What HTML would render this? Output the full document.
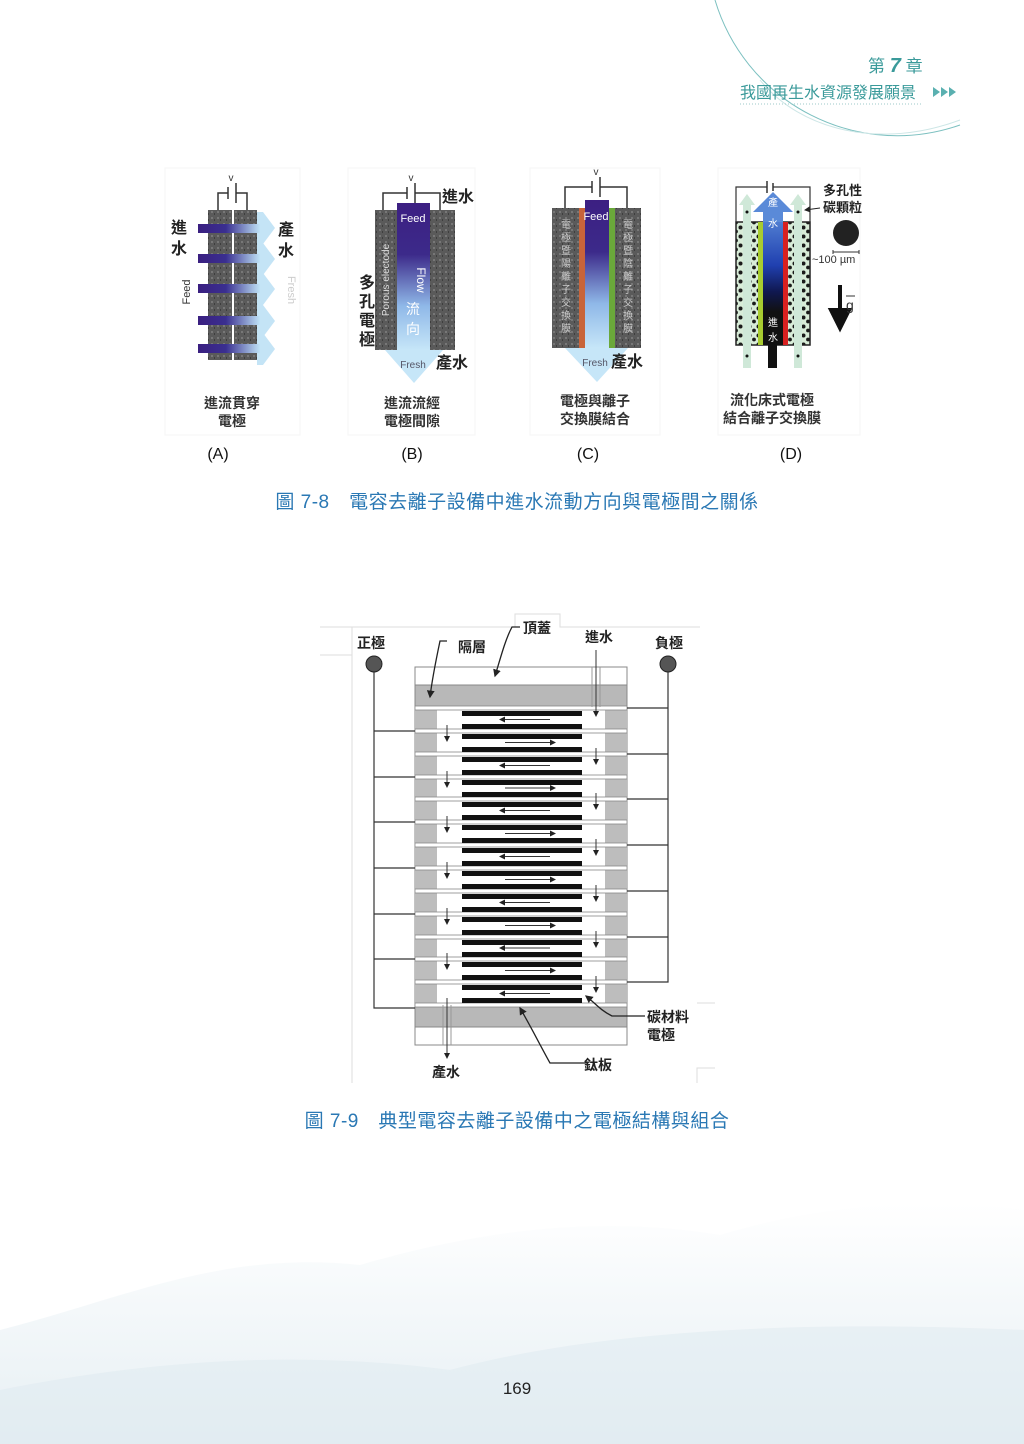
<!DOCTYPE html>
<html><head><meta charset="utf-8"><style>
html,body{margin:0;padding:0;background:#fff}
svg{display:block}
text{font-family:"Liberation Sans","Noto Sans CJK TC",sans-serif}
</style></head><body>
<svg width="1024" height="1444" viewBox="0 0 1024 1444" xmlns="http://www.w3.org/2000/svg">
<defs>
<pattern id="spk" width="6" height="6" patternUnits="userSpaceOnUse">
<rect width="6" height="6" fill="#5a5a5a"/><rect x="1" y="1" width="2" height="2" fill="#777"/><rect x="4" y="3" width="1" height="2" fill="#3e3e3e"/>
</pattern>
<pattern id="dots" width="9" height="9" patternUnits="userSpaceOnUse">
<rect width="9" height="9" fill="#d8ecd8"/><circle cx="2.5" cy="2.5" r="2" fill="#1a1a1a"/><circle cx="7" cy="6.5" r="1.9" fill="#1a1a1a"/>
</pattern>
<linearGradient id="hg" x1="0" x2="1" y1="0" y2="0"><stop offset="0" stop-color="#3a1f80"/><stop offset="0.45" stop-color="#3a2f90"/><stop offset="1" stop-color="#bfe3f7"/></linearGradient>
<linearGradient id="vg" x1="0" x2="0" y1="0" y2="1"><stop offset="0" stop-color="#3c1f82"/><stop offset="0.35" stop-color="#3c2a8a"/><stop offset="0.7" stop-color="#8fb8e8"/><stop offset="1" stop-color="#c6e6f8"/></linearGradient>
<linearGradient id="dg" x1="0" x2="0" y1="0" y2="1"><stop offset="0" stop-color="#5a8ad8"/><stop offset="0.4" stop-color="#2040b0"/><stop offset="0.6" stop-color="#101850"/><stop offset="0.75" stop-color="#111"/><stop offset="1" stop-color="#111"/></linearGradient>
<linearGradient id="bgB" x1="0" x2="0" y1="0" y2="1"><stop offset="0" stop-color="#fff"/><stop offset="1" stop-color="#e3edf2"/></linearGradient>
<marker id="ah" markerWidth="6" markerHeight="6" refX="5" refY="3" orient="auto"><path d="M0,0 L6,3 L0,6 z" fill="#222"/></marker>
</defs>

<path d="M0,1444 L0,1330 C120,1300 220,1250 360,1265 C480,1230 600,1215 720,1235 C820,1205 930,1195 1024,1210 L1024,1444 z" fill="url(#bgB)" opacity="0.9"/>
<path d="M0,1444 L0,1390 C150,1360 300,1350 450,1370 C600,1330 800,1320 1024,1330 L1024,1444z" fill="#dde9f0" opacity="0.5"/>

<path d="M715,0 A190,190 0 0 0 960,125" fill="none" stroke="#7cc0c0" stroke-width="1"/>
<path d="M760,80 C800,130 880,150 960,120" fill="none" stroke="#cde6e6" stroke-width="1"/>
<text x="868" y="72" font-size="17" fill="#3a9a9a">第 <tspan font-style="italic" font-weight="bold" font-size="20">7</tspan> 章</text>
<text x="740" y="98" font-size="16" fill="#3a9a9a">我國再生水資源發展願景</text>
<line x1="740" y1="104" x2="922" y2="104" stroke="#9ccaca" stroke-dasharray="1,2"/>
<path d="M933,87 l7,5 l-7,5z M941,87 l7,5 l-7,5z M949,87 l7,5 l-7,5z" fill="#5ab0b0"/>

<g stroke="#f5f5f5" fill="none"><rect x="165" y="168" width="135" height="267"/><rect x="348" y="168" width="127" height="267"/><rect x="530" y="168" width="130" height="267"/><rect x="718" y="168" width="142" height="267"/></g>

<g>
<rect x="208" y="210" width="24" height="150" fill="url(#spk)"/>
<rect x="234" y="210" width="23" height="150" fill="url(#spk)"/>
<g fill="#c4e4f6">
<path d="M257,212 h6 l12,16 l-12,16 h-6z"/><path d="M257,243 h6 l12,16 l-12,16 h-6z"/><path d="M257,273 h6 l12,16 l-12,16 h-6z"/><path d="M257,305 h6 l12,16 l-12,16 h-6z"/><path d="M257,333 h6 l12,16 l-12,16 h-6z"/>
</g>
<rect x="198" y="224" width="62" height="9" fill="url(#hg)"/>
<rect x="198" y="254" width="62" height="9" fill="url(#hg)"/>
<rect x="198" y="284" width="62" height="9" fill="url(#hg)"/>
<rect x="198" y="316" width="62" height="9" fill="url(#hg)"/>
<rect x="198" y="344" width="62" height="9" fill="url(#hg)"/>
<path d="M218,210 V193 H228 M236,193 H247 V210" fill="none" stroke="#333" stroke-width="1.5"/>
<line x1="228" y1="187" x2="228" y2="199" stroke="#333" stroke-width="1.5"/><line x1="236" y1="183" x2="236" y2="203" stroke="#333" stroke-width="1.5"/>
<text x="231" y="181" font-size="10" fill="#333" text-anchor="middle">v</text>
<text x="171" y="233" font-size="16" font-weight="bold" fill="#222">進</text>
<text x="171" y="254" font-size="16" font-weight="bold" fill="#222">水</text>
<text x="278" y="235" font-size="16" font-weight="bold" fill="#222">產</text>
<text x="278" y="256" font-size="16" font-weight="bold" fill="#222">水</text>
<text transform="translate(190,292) rotate(-90)" font-size="11" fill="#333" text-anchor="middle">Feed</text>
<text transform="translate(288,290) rotate(90)" font-size="11" fill="#ccc" text-anchor="middle">Fresh</text>
<text x="232" y="408" font-size="14" font-weight="bold" fill="#333" text-anchor="middle">進流貫穿</text>
<text x="232" y="426" font-size="14" font-weight="bold" fill="#333" text-anchor="middle">電極</text>
</g>

<g>
<rect x="375" y="210" width="22" height="140" fill="url(#spk)"/>
<rect x="430" y="210" width="25" height="140" fill="url(#spk)"/>
<rect x="397" y="203" width="33" height="147" fill="url(#vg)"/>
<path d="M385,350 H443 L414,383z" fill="#c6e6f8"/>
<path d="M383,210 V193 H407 M415,193 H440 V210" fill="none" stroke="#333" stroke-width="1.5"/>
<line x1="407" y1="187" x2="407" y2="199" stroke="#333" stroke-width="1.5"/><line x1="415" y1="183" x2="415" y2="203" stroke="#333" stroke-width="1.5"/>
<text x="411" y="181" font-size="10" fill="#333" text-anchor="middle">v</text>
<text x="413" y="222" font-size="11" fill="#fff" text-anchor="middle">Feed</text>
<text transform="translate(389,280) rotate(-90)" font-size="10" fill="#ddd" text-anchor="middle">Porous electode</text>
<text transform="translate(417,280) rotate(90)" font-size="12" fill="#fff" text-anchor="middle">Flow</text>
<text x="413" y="314" font-size="14" fill="#fff" text-anchor="middle">流</text>
<text x="413" y="334" font-size="14" fill="#fff" text-anchor="middle">向</text>
<text x="413" y="368" font-size="10" fill="#556" text-anchor="middle">Fresh</text>
<text x="442" y="202" font-size="16" font-weight="bold" fill="#222">進水</text>
<text x="436" y="368" font-size="16" font-weight="bold" fill="#222">產水</text>
<g font-size="16" font-weight="bold" fill="#222"><text x="359" y="288">多</text><text x="359" y="307">孔</text><text x="359" y="326">電</text><text x="359" y="345">極</text></g>
<text x="412" y="408" font-size="14" font-weight="bold" fill="#333" text-anchor="middle">進流流經</text>
<text x="412" y="426" font-size="14" font-weight="bold" fill="#333" text-anchor="middle">電極間隙</text>
</g>

<g>
<rect x="552" y="208" width="27" height="140" fill="url(#spk)"/>
<rect x="615" y="208" width="26" height="140" fill="url(#spk)"/>
<rect x="579" y="208" width="6" height="140" fill="#c8643a"/>
<rect x="609" y="208" width="6" height="140" fill="#6aa83a"/>
<rect x="585" y="200" width="24" height="148" fill="url(#vg)"/>
<path d="M565,348 H628 L597,382z" fill="#c6e6f8"/>
<path d="M565,208 V187 H592 M600,187 H627 V208" fill="none" stroke="#333" stroke-width="1.5"/>
<line x1="592" y1="181" x2="592" y2="193" stroke="#333" stroke-width="1.5"/><line x1="600" y1="177" x2="600" y2="197" stroke="#333" stroke-width="1.5"/>
<text x="596" y="175" font-size="10" fill="#333" text-anchor="middle">v</text>
<text x="596" y="220" font-size="11" fill="#fff" text-anchor="middle">Feed</text>
<g font-size="10" fill="#ccc" text-anchor="middle">
<text x="566" y="228">電</text><text x="566" y="241">極</text><text x="566" y="254">暨</text><text x="566" y="267">陽</text><text x="566" y="280">離</text><text x="566" y="293">子</text><text x="566" y="306">交</text><text x="566" y="319">換</text><text x="566" y="332">膜</text>
<text x="628" y="228">電</text><text x="628" y="241">極</text><text x="628" y="254">暨</text><text x="628" y="267">陰</text><text x="628" y="280">離</text><text x="628" y="293">子</text><text x="628" y="306">交</text><text x="628" y="319">換</text><text x="628" y="332">膜</text>
</g>
<text x="595" y="366" font-size="10" fill="#556" text-anchor="middle">Fresh</text>
<text x="611" y="367" font-size="16" font-weight="bold" fill="#222">產水</text>
<text x="595" y="406" font-size="14" font-weight="bold" fill="#333" text-anchor="middle">電極與離子</text>
<text x="595" y="424" font-size="14" font-weight="bold" fill="#333" text-anchor="middle">交換膜結合</text>
</g>

<g>
<rect x="736" y="222" width="74" height="123" fill="url(#dots)" stroke="#222" stroke-width="1.5"/>
<rect x="758" y="222" width="5" height="123" fill="#a8cc30"/>
<rect x="783" y="222" width="5" height="123" fill="#d82020"/>
<rect x="763" y="212" width="20" height="133" fill="url(#dg)"/>
<path d="M753,212 L773,192 L793,212 H783 V222 H763 V212z" fill="#5a8ad8"/>
<rect x="768" y="345" width="9" height="23" fill="#111"/>
<g fill="#cfe8d8"><path d="M743,368 V205 H739 L747,194 L755,205 H751 V368z"/><path d="M794,368 V205 H790 L798,194 L806,205 H802 V368z"/></g>
<circle cx="747" cy="212" r="1.5" fill="#111"/><circle cx="798" cy="212" r="1.5" fill="#111"/><circle cx="747" cy="356" r="1.5" fill="#111"/><circle cx="798" cy="356" r="1.5" fill="#111"/>
<path d="M736,222 V187 H767 M773,187 H810 V222" fill="none" stroke="#333" stroke-width="1.2"/>
<line x1="767" y1="181" x2="767" y2="193" stroke="#333" stroke-width="1.5"/><line x1="773" y1="183" x2="773" y2="191" stroke="#333" stroke-width="1.5"/>
<text x="773" y="206" font-size="10" fill="#fff" text-anchor="middle">產</text>
<text x="773" y="227" font-size="10" fill="#fff" text-anchor="middle">水</text>
<text x="773" y="326" font-size="10" fill="#fff" text-anchor="middle">進</text>
<text x="773" y="341" font-size="10" fill="#fff" text-anchor="middle">水</text>
<text x="823" y="195" font-size="13" font-weight="bold" fill="#222">多孔性</text>
<text x="823" y="212" font-size="13" font-weight="bold" fill="#222">碳顆粒</text>
<line x1="820" y1="208" x2="805" y2="210" stroke="#222" marker-end="url(#ah)"/>
<circle cx="846" cy="233" r="13" fill="#222"/>
<path d="M833,250 V254 M833,252 H859 M859,250 V254" stroke="#333" fill="none"/>
<text x="812" y="263" font-size="11" fill="#333">~100 µm</text>
<path d="M840,285 V315 M831,310 L840,328 L849,310z" stroke="#111" stroke-width="4" fill="#111"/>
<text x="846" y="310" font-size="14" fill="#333">g</text><line x1="846" y1="296" x2="855" y2="296" stroke="#333"/>
<text x="772" y="405" font-size="14" font-weight="bold" fill="#333" text-anchor="middle">流化床式電極</text>
<text x="772" y="423" font-size="14" font-weight="bold" fill="#333" text-anchor="middle">結合離子交換膜</text>
</g>

<g font-size="16" fill="#111" text-anchor="middle"><text x="218" y="459">(A)</text><text x="412" y="459">(B)</text><text x="588" y="459">(C)</text><text x="791" y="459">(D)</text></g>
<text x="517" y="508" font-size="19" letter-spacing="0.5" fill="#2a78b4" text-anchor="middle">圖 7-8　電容去離子設備中進水流動方向與電極間之關係</text>

<g stroke="#ddd" fill="none"><path d="M320,627 H515 V614 H560 V627 H700"/><line x1="352" y1="627" x2="352" y2="1083"/><line x1="320" y1="655" x2="352" y2="655"/><path d="M697,1003 H715"/><path d="M697,1083 V1068 H715"/></g>
<rect x="415" y="667" width="212" height="378" fill="#fff" stroke="#888"/>
<rect x="415" y="685" width="212" height="22" fill="#b8b8b8" stroke="#888"/>
<rect x="415" y="1005" width="212" height="22" fill="#b8b8b8" stroke="#888"/>
<rect x="415" y="707" width="22" height="298" fill="#bdbdbd"/>
<rect x="605" y="707" width="22" height="298" fill="#bdbdbd"/>
<g fill="#fff" stroke="#888" stroke-width="0.8">
<rect x="415" y="706" width="212" height="4"/><rect x="415" y="729" width="212" height="4"/><rect x="415" y="752" width="212" height="4"/><rect x="415" y="775" width="212" height="4"/><rect x="415" y="797" width="212" height="4"/><rect x="415" y="820" width="212" height="4"/><rect x="415" y="843" width="212" height="4"/><rect x="415" y="866" width="212" height="4"/><rect x="415" y="889" width="212" height="4"/><rect x="415" y="912" width="212" height="4"/><rect x="415" y="935" width="212" height="4"/><rect x="415" y="957" width="212" height="4"/><rect x="415" y="980" width="212" height="4"/><rect x="415" y="1003" width="212" height="4"/>
</g>
<g fill="#111">
<rect x="462" y="711" width="120" height="5"/>
<rect x="462" y="724" width="120" height="5"/><rect x="462" y="734" width="120" height="5"/>
<rect x="462" y="747" width="120" height="5"/><rect x="462" y="757" width="120" height="5"/>
<rect x="462" y="770" width="120" height="5"/><rect x="462" y="780" width="120" height="5"/>
<rect x="462" y="792" width="120" height="5"/><rect x="462" y="802" width="120" height="5"/>
<rect x="462" y="815" width="120" height="5"/><rect x="462" y="825" width="120" height="5"/>
<rect x="462" y="838" width="120" height="5"/><rect x="462" y="848" width="120" height="5"/>
<rect x="462" y="861" width="120" height="5"/><rect x="462" y="871" width="120" height="5"/>
<rect x="462" y="884" width="120" height="5"/><rect x="462" y="894" width="120" height="5"/>
<rect x="462" y="907" width="120" height="5"/><rect x="462" y="917" width="120" height="5"/>
<rect x="462" y="930" width="120" height="5"/><rect x="462" y="940" width="120" height="5"/>
<rect x="462" y="952" width="120" height="5"/><rect x="462" y="962" width="120" height="5"/>
<rect x="462" y="975" width="120" height="5"/><rect x="462" y="985" width="120" height="5"/>
<rect x="462" y="998" width="120" height="5"/>
</g>
<g stroke="#333" stroke-width="1" marker-end="url(#ah)">
<line x1="550" y1="719.5" x2="500" y2="719.5"/>
<line x1="505" y1="742.5" x2="555" y2="742.5"/>
<line x1="550" y1="765.5" x2="500" y2="765.5"/>
<line x1="505" y1="788" x2="555" y2="788"/>
<line x1="550" y1="810.5" x2="500" y2="810.5"/>
<line x1="505" y1="833.5" x2="555" y2="833.5"/>
<line x1="550" y1="856.5" x2="500" y2="856.5"/>
<line x1="505" y1="879.5" x2="555" y2="879.5"/>
<line x1="550" y1="902.5" x2="500" y2="902.5"/>
<line x1="505" y1="925.5" x2="555" y2="925.5"/>
<line x1="550" y1="948" x2="500" y2="948"/>
<line x1="505" y1="970.5" x2="555" y2="970.5"/>
<line x1="550" y1="993.5" x2="500" y2="993.5"/>
<line x1="447" y1="725" x2="447" y2="741"/><line x1="596" y1="748" x2="596" y2="764"/>
<line x1="447" y1="771" x2="447" y2="787"/><line x1="596" y1="793" x2="596" y2="809"/>
<line x1="447" y1="816" x2="447" y2="832"/><line x1="596" y1="839" x2="596" y2="855"/>
<line x1="447" y1="862" x2="447" y2="878"/><line x1="596" y1="885" x2="596" y2="901"/>
<line x1="447" y1="908" x2="447" y2="924"/><line x1="596" y1="931" x2="596" y2="947"/>
<line x1="447" y1="953" x2="447" y2="969"/><line x1="596" y1="976" x2="596" y2="992"/>
<line x1="596" y1="650" x2="596" y2="716"/>
<line x1="447" y1="998" x2="447" y2="1058"/>
</g>
<g stroke="#999" stroke-width="1" fill="none"><path d="M592,667 V707 M600,667 V707"/><path d="M443,1005 V1045 M451,1005 V1045"/></g>
<g stroke="#333" stroke-width="1.2" fill="none">
<path d="M374,672 V1008 H415"/>
<path d="M374,731 H415 M374,777 H415 M374,822 H415 M374,868 H415 M374,914 H415 M374,959 H415"/>
<path d="M668,672 V982 H627"/>
<path d="M627,708 H668 M627,754 H668 M627,799 H668 M627,845 H668 M627,891 H668 M627,937 H668"/>
</g>
<circle cx="374" cy="664" r="8" fill="#555" stroke="#222"/>
<circle cx="668" cy="664" r="8" fill="#555" stroke="#222"/>
<g stroke="#222" stroke-width="1.3" fill="none" marker-end="url(#ah)">
<path d="M520,627 H512 C505,640 500,660 495,676"/>
<path d="M447,641 H440 C436,660 432,680 430,697"/>
<path d="M645,1016 H612 C600,1010 595,1003 586,996"/>
<path d="M588,1063 H550 C540,1045 530,1025 520,1008"/>
</g>
<g font-size="14" font-weight="bold" fill="#222">
<text x="523" y="633">頂蓋</text>
<text x="458" y="652">隔層</text>
<text x="585" y="642">進水</text>
<text x="357" y="648">正極</text>
<text x="655" y="648">負極</text>
<text x="647" y="1022">碳材料</text>
<text x="647" y="1040">電極</text>
<text x="584" y="1070">鈦板</text>
<text x="432" y="1077">產水</text>
</g>
<text x="517" y="1127" font-size="19" letter-spacing="0.5" fill="#2a78b4" text-anchor="middle">圖 7-9　典型電容去離子設備中之電極結構與組合</text>

<text x="517" y="1394" font-size="17" fill="#222" text-anchor="middle">169</text>
</svg>
</body></html>
